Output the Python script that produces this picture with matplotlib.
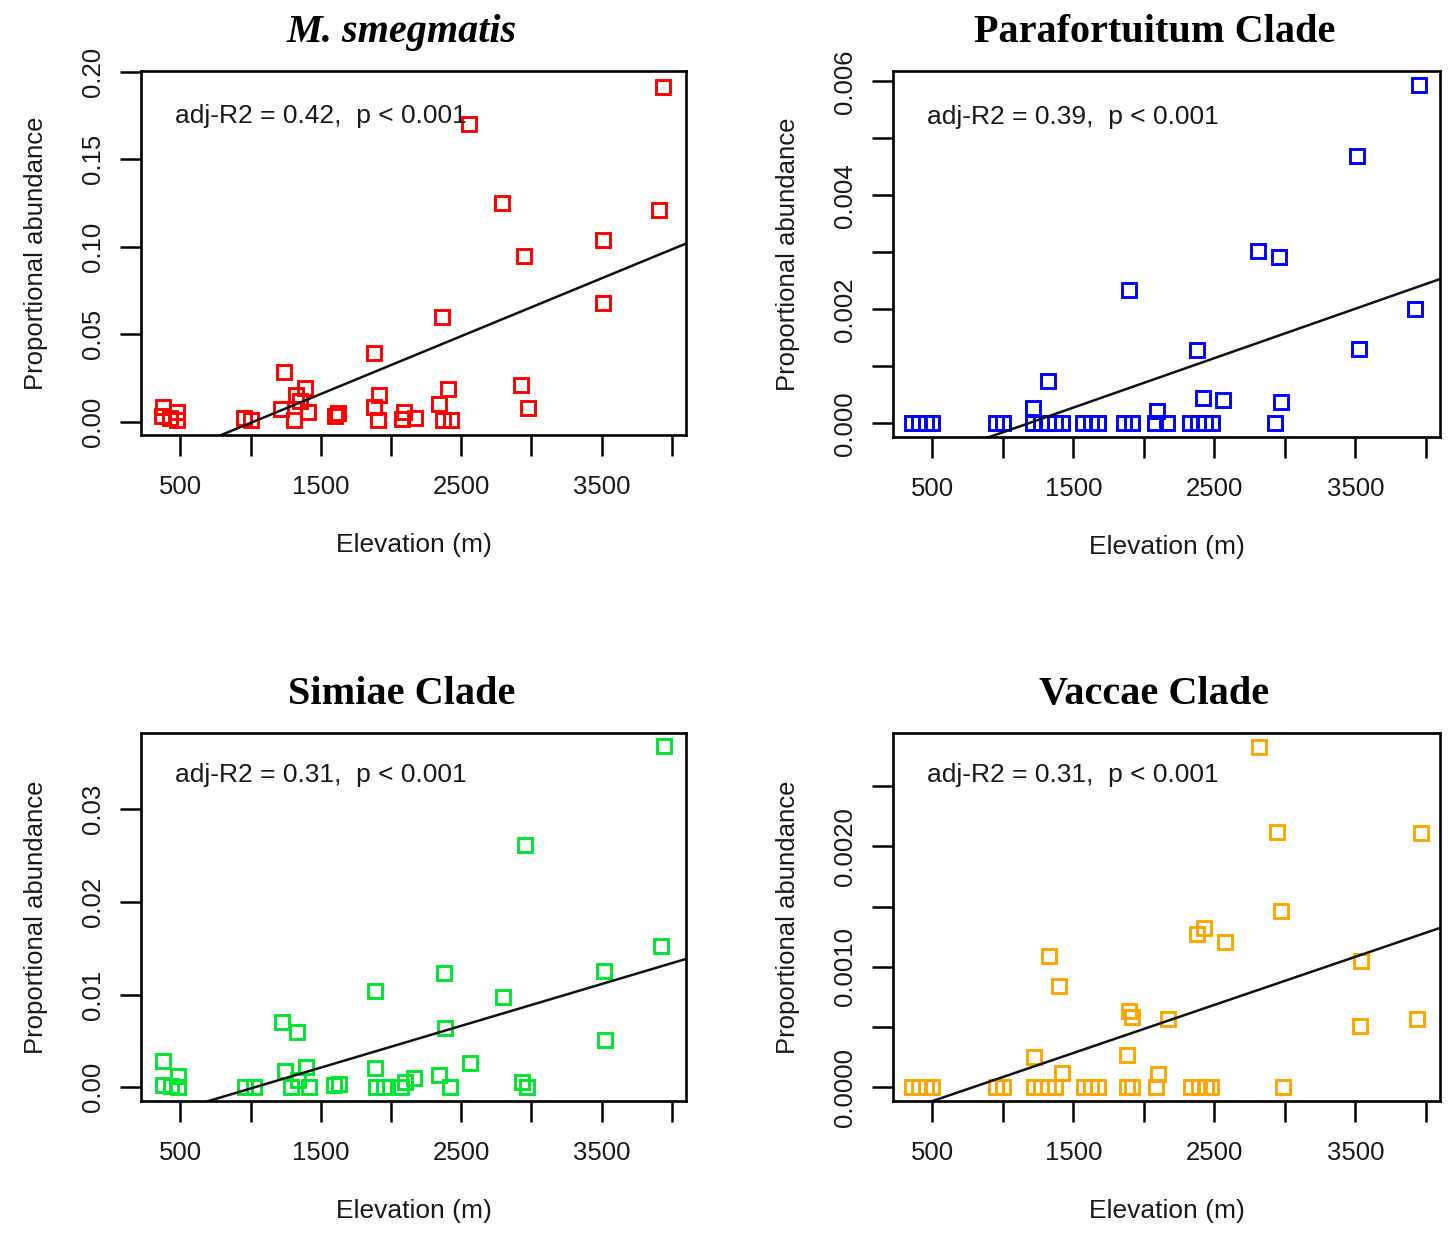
import numpy as np
import matplotlib.pyplot as plt

plt.rcParams['font.family'] = ['Liberation Sans', 'DejaVu Sans']

# values
elev_smeg = [3937, 2552, 2792, 3906, 3512, 2946, 3507, 2365, 1882, 1240, 2926, 2403, 1913,
             1390, 1326, 1350, 2977, 2340, 1877, 1220, 1410, 1309, 2092, 1625, 1600, 2168,
             1910, 2080, 2370, 2425, 955, 1005, 374, 369, 424, 475, 475]
abund_smeg = [0.1916, 0.170, 0.125, 0.121, 0.104, 0.0946, 0.0677, 0.0597, 0.0394, 0.0284,
              0.0211, 0.0187, 0.0153, 0.0192, 0.0149, 0.012, 0.0078, 0.0099, 0.0084, 0.0071,
              0.0056, 0.0009, 0.0056, 0.005, 0.003, 0.0019, 0.001, 0.0013, 0.001, 0.001,
              0.002, 0.001, 0.0084, 0.003, 0.002, 0.0056, 0.001]

elev_para = [3953, 3513, 2810, 2957, 1894, 3923, 2375, 3526, 1322, 2418, 2562, 2969, 1216,
             2094, 356, 406, 457, 495, 950, 1000, 1216, 1267, 1317, 1368, 1418, 1570, 1621,
             1671, 1861, 1912, 2076, 2165, 2329, 2380, 2430, 2481, 2931]
abund_para = [0.00594, 0.00469, 0.00303, 0.00292, 0.00234, 0.00201, 0.00129, 0.00131,
              0.00074, 0.00044, 0.00041, 0.00038, 0.00027, 0.00022] + [0.0] * 23

elev_simiae = [3944, 2953, 3919, 2377, 3515, 1888, 2799, 1225, 1333, 2384, 3520, 374, 2559,
               1246, 1395, 1888, 2343, 2167, 480, 2933, 374, 437, 480, 960, 1023, 1289, 1340,
               1415, 1593, 1630, 1896, 1947, 2073, 2098, 2422, 2971]
abund_simiae = [0.03675, 0.02617, 0.01527, 0.01238, 0.01249, 0.0104, 0.00975, 0.00708,
                0.00596, 0.00635, 0.00509, 0.00282, 0.00264, 0.00173, 0.00217, 0.00209,
                0.0013, 0.001, 0.0012, 0.0006, 0.0003, 0.0001, 0.0, 0.0, 0.0, 0.0, 0.0008,
                0.0, 0.0003, 0.0004, 0.0, 0.0, 0.0, 0.0006, 0.0, 0.0]

elev_vaccae = [2819, 2946, 3967, 2971, 2375, 2425, 2573, 1325, 3538, 1397, 1897, 1917, 2171,
               3530, 3937, 1219, 1882, 1417, 2100, 355, 406, 457, 495, 952, 1003, 1219, 1270,
               1320, 1371, 1574, 1625, 1676, 1879, 1917, 2082, 2336, 2387, 2437, 2476, 2984]
abund_vaccae = [0.002825, 0.00212, 0.00211, 0.00146, 0.00127, 0.00132, 0.00121, 0.00109,
                0.00105, 0.00084, 0.00063, 0.00058, 0.00057, 0.00051, 0.00057, 0.00025,
                0.00027, 0.00012, 0.00011] + [0.0] * 21

# fitted lines (intercept, slope per m)
fit_smeg = (-0.0339, 3.31e-5)
fit_para = (-0.001024, 8.67e-7)
fit_simiae = (-0.00463, 4.506e-6)
fit_vaccae = (-0.000313, 3.99e-7)

stats = ['adj-R2 = 0.42,  p < 0.001', 'adj-R2 = 0.39,  p < 0.001',
         'adj-R2 = 0.31,  p < 0.001', 'adj-R2 = 0.31,  p < 0.001']
titles = ['M. smegmatis', 'Parafortuitum Clade', 'Simiae Clade', 'Vaccae Clade']
colors = ['#ff0000', '#0000ff', '#00e62e', '#ffa500']

x_ticks = [500, 1000, 1500, 2000, 2500, 3000, 3500, 4000]
x_labels = ['500', '', '1500', '', '2500', '', '3500', '']

y_ticks = [[0.0, 0.05, 0.10, 0.15, 0.20],
           [0.0, 0.001, 0.002, 0.003, 0.004, 0.005, 0.006],
           [0.0, 0.01, 0.02, 0.03],
           [0.0, 0.0005, 0.0010, 0.0015, 0.0020, 0.0025]]
y_labels = [['0.00', '0.05', '0.10', '0.15', '0.20'],
            ['0.000', '', '0.002', '', '0.004', '', '0.006'],
            ['0.00', '0.01', '0.02', '0.03'],
            ['0.0000', '', '0.0010', '', '0.0020', '']]
y_lims = [(-0.0077, 0.2005), (-0.00024, 0.00618), (-0.00147, 0.0382), (-0.000113, 0.00294)]

data = [(elev_smeg, abund_smeg, fit_smeg), (elev_para, abund_para, fit_para),
        (elev_simiae, abund_simiae, fit_simiae), (elev_vaccae, abund_vaccae, fit_vaccae)]

W, H = 1448, 1233
fig = plt.figure(figsize=(W / 100, H / 100), dpi=100)
boxes = [(141, 686, 71, 435), (893, 1440, 71, 437), (141, 686, 733, 1101), (893, 1440, 733, 1101)]

for i, (l, r, t, b) in enumerate(boxes):
    ax = fig.add_axes([l / W, 1 - b / H, (r - l) / W, (b - t) / H])
    xs, ys, (b0, b1) = data[i]
    ax.plot(xs, ys, ls='none', marker='s', ms=10, mfc='none', mec=colors[i], mew=2.1)
    xl = (220, 4100)
    xx = np.array(xl)
    ax.plot(xx, b0 + b1 * xx, color='#111111', lw=1.8)
    ax.set_xlim(xl)
    ax.set_ylim(y_lims[i])
    ax.set_xticks(x_ticks)
    ax.set_xticklabels(x_labels)
    ax.set_yticks(y_ticks[i])
    ax.set_yticklabels(y_labels[i])
    ax.tick_params(length=15, width=1.8, labelsize=18.5, pad=14, labelcolor='#1a1a1a')
    ax.tick_params(axis='y', labelrotation=90, pad=11)
    for lab in ax.get_yticklabels():
        lab.set_va('center')
    for sp in ax.spines.values():
        sp.set_linewidth(1.9)
    ax.set_xlabel('Elevation (m)', fontsize=19, labelpad=24, color='#1a1a1a')
    ax.set_ylabel('Proportional abundance', fontsize=18.5, labelpad=24, color='#1a1a1a')
    style = 'italic' if i == 0 else 'normal'
    ax.set_title(titles[i], fontsize=29, fontweight='bold', style=style, x=0.478,
                 family=['Liberation Serif', 'DejaVu Serif'], pad=21)
    ax.text(0.062, 0.875 if i < 2 else 0.885, stats[i], transform=ax.transAxes,
            fontsize=19, va='center', ha='left', color='#1a1a1a')

fig.savefig('out.png', dpi=100)
